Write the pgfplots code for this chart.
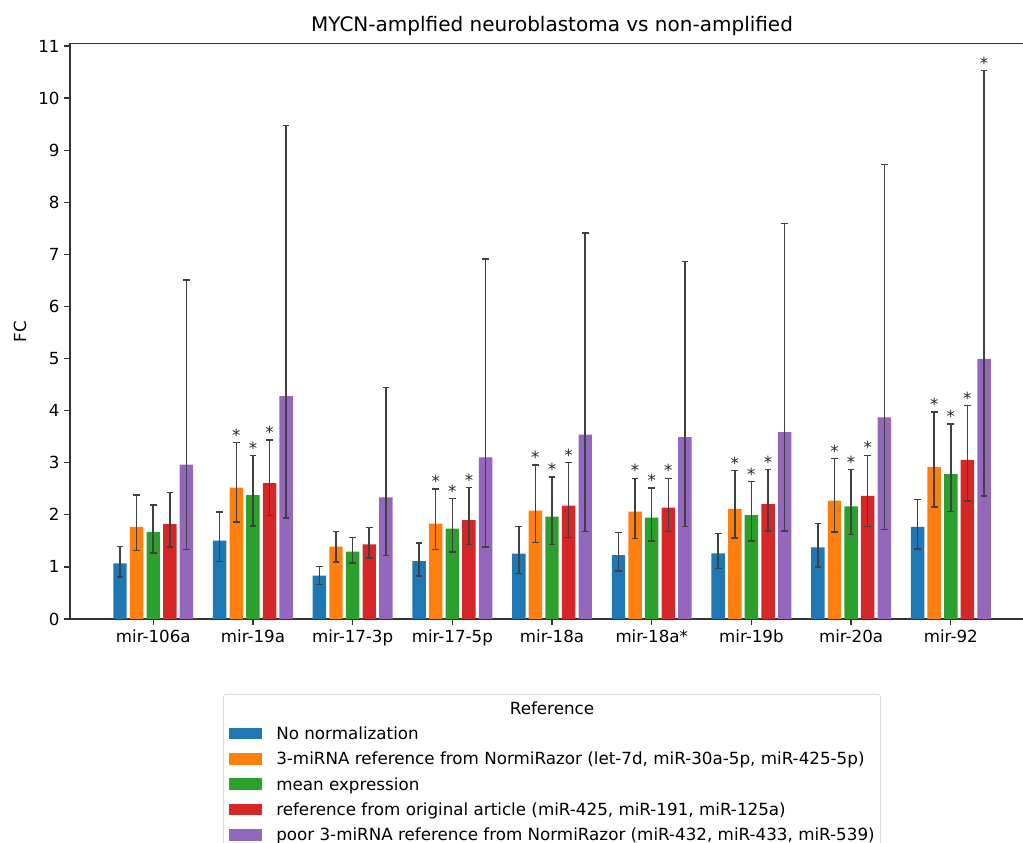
\documentclass[border=0pt]{standalone}
\usepackage{fontspec}
\setmainfont{DejaVu Sans}
\usepackage{pgfplots}
\pgfplotsset{compat=1.18}
\usepackage{pgfplotstable}
\definecolor{cA}{HTML}{1F77B4}
\definecolor{cB}{HTML}{FF7F0E}
\definecolor{cC}{HTML}{2CA02C}
\definecolor{cD}{HTML}{D62728}
\definecolor{cE}{HTML}{9467BD}
\definecolor{ecol}{HTML}{404040}
\newcommand\tickfont{\fontsize{12}{14.4}\selectfont}
\newcommand\titlefont{\fontsize{14.4}{17.3}\selectfont}
\newcommand\legfont{\fontsize{12.05}{14.4}\selectfont}

% columns: group index, bar value, lower end of error bar, upper end of error bar
\pgfplotstableread{
x y lo hi
0 1.067 0.806 1.388
1 1.503 1.100 2.054
2 0.831 0.664 1.010
3 1.113 0.825 1.459
4 1.253 0.875 1.777
5 1.228 0.921 1.662
6 1.261 0.973 1.643
7 1.377 1.002 1.831
8 1.766 1.341 2.292
}\tblA
\pgfplotstableread{
x y lo hi
0 1.766 1.311 2.380
1 2.520 1.862 3.390
2 1.388 1.094 1.680
3 1.829 1.330 2.495
4 2.079 1.470 2.956
5 2.060 1.547 2.700
6 2.112 1.550 2.847
7 2.270 1.665 3.077
8 2.919 2.148 3.971
}\tblB
\pgfplotstableread{
x y lo hi
0 1.670 1.267 2.188
1 2.380 1.790 3.134
2 1.292 1.075 1.567
3 1.733 1.286 2.309
4 1.963 1.426 2.725
5 1.944 1.497 2.514
6 1.996 1.499 2.638
7 2.162 1.622 2.868
8 2.782 2.061 3.741
}\tblC
\pgfplotstableread{
x y lo hi
0 1.823 1.382 2.424
1 2.610 1.983 3.440
2 1.432 1.171 1.760
3 1.900 1.426 2.520
4 2.175 1.566 3.006
5 2.136 1.676 2.700
6 2.205 1.686 2.868
7 2.364 1.780 3.142
8 3.056 2.263 4.094
}\tblD
\pgfplotstableread{
x y lo hi
0 2.962 1.336 6.510
1 4.280 1.938 9.470
2 2.334 1.221 4.440
3 3.100 1.382 6.910
4 3.537 1.676 7.410
5 3.490 1.777 6.858
6 3.589 1.686 7.589
7 3.870 1.715 8.728
8 4.995 2.357 10.530
}\tblE
% significance stars: group index, top of error bar
\pgfplotstableread{
x hi
1 3.390
3 2.495
4 2.956
5 2.700
6 2.847
7 3.077
8 3.971
}\starB
\pgfplotstableread{
x hi
1 3.134
3 2.309
4 2.725
5 2.514
6 2.638
7 2.868
8 3.741
}\starC
\pgfplotstableread{
x hi
1 3.440
3 2.520
4 3.006
5 2.700
6 2.868
7 3.142
8 4.094
}\starD
\pgfplotstableread{
x hi
8 10.530
}\starE

\pgfplotsset{
  mybar/.style={draw=none, fill=#1,
    error bars/.cd, y dir=both, y explicit,
    error bar style={draw=ecol, line width=1.1pt},
    error mark options={rotate=90, draw=ecol, line width=1.1pt, mark size=2.4pt},
    /pgfplots/.cd,
    legend image code/.code={\fill[#1, sharp corners] (0pt,-4.2pt) rectangle (23.8pt,4.2pt);}},
  mystar/.style={draw=none, fill=none, forget plot,
    nodes near coords={*},
    every node near coord/.append style={anchor=base, inner sep=0pt, yshift=1pt,
      font=\tickfont, text=black!85}},
}

\newlength\legT
\newlength\legI
\setlength\legI{33.8pt}

\begin{document}%
\settowidth{\legT}{\legfont poor 3-miRNA reference from NormiRazor (miR-432, miR-433, miR-539)}%
\begin{tikzpicture}
\begin{axis}[
  name=ax,
  scale only axis,
  width=694.1pt, height=414.1pt,
  ybar, bar width=0.135,
  xmin=-0.835, xmax=8.835, ymin=0, ymax=11.04,
  xtick={0,...,8},
  xticklabels={mir-106a,mir-19a,mir-17-3p,mir-17-5p,mir-18a,mir-18a*,mir-19b,mir-20a,mir-92},
  ytick={0,...,11},
  xtick pos=bottom, ytick pos=left,
  tick align=outside,
  major tick length=4pt,
  tick style={black!80, line width=0.9pt},
  axis line style={black!80, line width=0.9pt},
  tick label style={font=\tickfont},
  /pgf/number format/assume math mode=true,
  title={MYCN-amplfied neuroblastoma vs non-amplified},
  title style={font=\titlefont, at={(0.5,1)}, anchor=base, yshift=2.6pt},
  ylabel={FC},
  ylabel style={font=\tickfont, at={(axis description cs:-0.0519,0.5)}, anchor=center},
  legend cell align=left,
  legend style={at={(0.5,-0.1304)}, anchor=north, draw=black!20, rounded corners=2pt,
    fill=white, inner xsep=4.3pt, inner ysep=5.8pt, font=\legfont,
    row sep=9.6pt, column sep=10pt,
    nodes={inner sep=0pt, text height=8.6pt, text depth=0pt}},
]
\addlegendimage{empty legend}
\addlegendentry{\makebox[\legT][c]{\hspace*{-\legI}Reference}}

\addplot[mybar=cA, bar shift=-0.3333] table[x=x, y=y, y error plus expr=\thisrow{hi}-\thisrow{y}, y error minus expr=\thisrow{y}-\thisrow{lo}] {\tblA};
\addlegendentry{No normalization}
\addplot[mybar=cB, bar shift=-0.1667] table[x=x, y=y, y error plus expr=\thisrow{hi}-\thisrow{y}, y error minus expr=\thisrow{y}-\thisrow{lo}] {\tblB};
\addlegendentry{3-miRNA reference from NormiRazor (let-7d, miR-30a-5p, miR-425-5p)}
\addplot[mybar=cC, bar shift=0] table[x=x, y=y, y error plus expr=\thisrow{hi}-\thisrow{y}, y error minus expr=\thisrow{y}-\thisrow{lo}] {\tblC};
\addlegendentry{mean expression}
\addplot[mybar=cD, bar shift=0.1667] table[x=x, y=y, y error plus expr=\thisrow{hi}-\thisrow{y}, y error minus expr=\thisrow{y}-\thisrow{lo}] {\tblD};
\addlegendentry{reference from original article (miR-425, miR-191, miR-125a)}
\addplot[mybar=cE, bar shift=0.3333] table[x=x, y=y, y error plus expr=\thisrow{hi}-\thisrow{y}, y error minus expr=\thisrow{y}-\thisrow{lo}] {\tblE};
\addlegendentry{poor 3-miRNA reference from NormiRazor (miR-432, miR-433, miR-539)}

\addplot[mystar, bar shift=-0.1667] table[x=x, y=hi] {\starB};
\addplot[mystar, bar shift=0] table[x=x, y=hi] {\starC};
\addplot[mystar, bar shift=0.1667] table[x=x, y=hi] {\starD};
\addplot[mystar, bar shift=0.3333] table[x=x, y=hi] {\starE};
\end{axis}
\pgfresetboundingbox
\path[use as bounding box] ([shift={(-50.4pt,-161.28pt)}]ax.south west) rectangle ([shift={(686.16pt,445.68pt)}]ax.south west);
\end{tikzpicture}%
\end{document}
